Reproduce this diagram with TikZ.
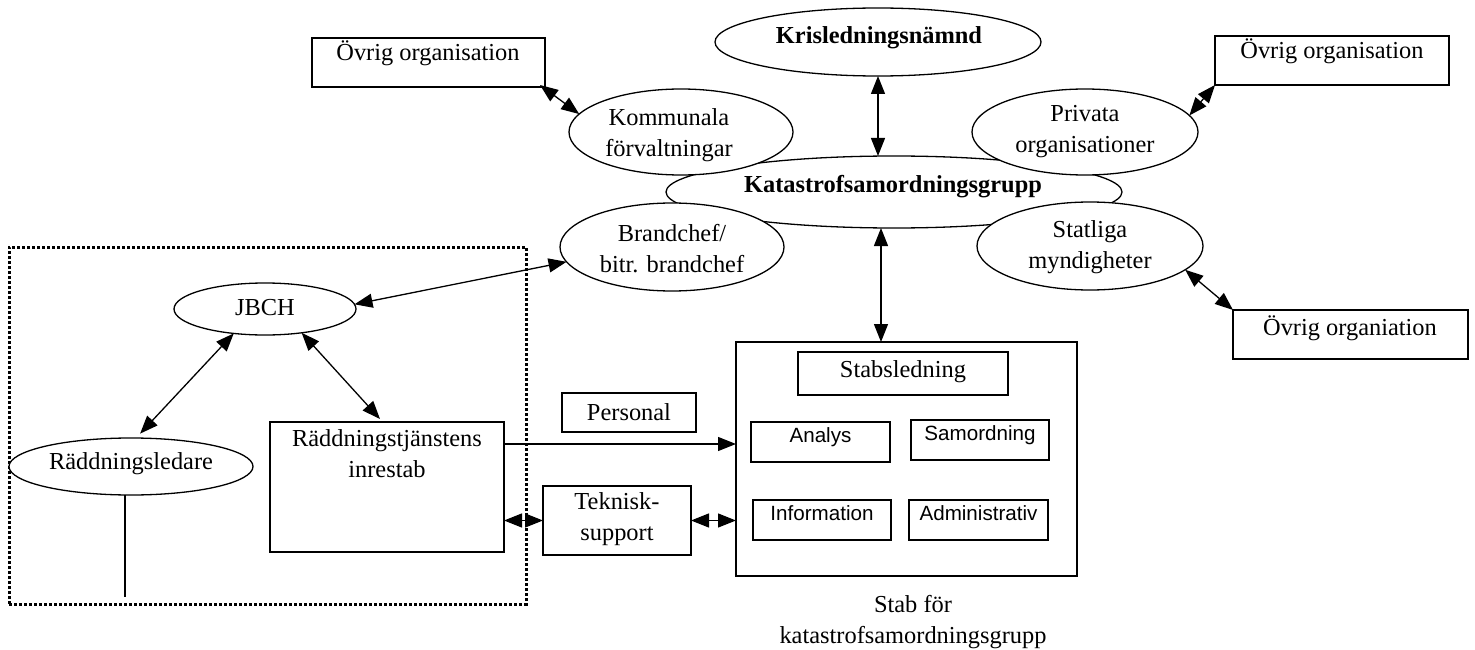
\documentclass[tikz,border=0pt]{standalone}
\usepackage{fontspec}
\setmainfont{Liberation Serif}
\newfontfamily\arialfont{Liberation Sans}
\usetikzlibrary{shapes.geometric,arrows.meta,calc}

\begin{document}
\begin{tikzpicture}[x=1pt,y=-1pt,
  every node/.style={inner sep=0pt, outer sep=0pt},
  serif/.style={font=\fontsize{24.4pt}{31pt}\selectfont, anchor=base, align=center},
  boldtxt/.style={font=\fontsize{24.4pt}{31pt}\selectfont\bfseries, anchor=base},
  sans/.style={font=\arialfont\fontsize{20.6pt}{24pt}\selectfont, anchor=base},
  oval/.style={ellipse, draw, line width=1.3pt, fill=white},
  box/.style={rectangle, draw, line width=1.6pt, fill=white},
  dotframe/.style={rectangle, draw, line width=3pt, dash pattern=on 3pt off 2pt},
  tip/.tip={Triangle[length=18pt,width=14pt]},
  link/.style={line width=1.3pt, tip-tip},
  oneway/.style={line width=1.3pt, -tip},
]
\useasboundingbox (0,0) rectangle (1475,650);

% dotted frame round the rescue service part
\node[dotframe, minimum width=517pt, minimum height=357pt] (inre) at (267.5,425.5) {};

% ellipses (the central group first, the others overlap it)
\node[oval, minimum width=326pt, minimum height=68pt] (kris) at (878,42) {};
\node[oval, minimum width=456pt, minimum height=72pt] (kat) at (894,192) {};
\node[oval, minimum width=224pt, minimum height=86pt] (komm) at (681,132) {};
\node[oval, minimum width=224pt, minimum height=88pt] (brand) at (672,247) {};
\node[oval, minimum width=226pt, minimum height=86pt] (priv) at (1085,132) {};
\node[oval, minimum width=226pt, minimum height=88pt] (stat) at (1090,246) {};
\node[oval, minimum width=182pt, minimum height=52pt] (jbch) at (265,309) {};
\node[oval, minimum width=244pt, minimum height=57pt] (rl) at (131,466.5) {};

% boxes
\node[box, minimum width=233pt, minimum height=49pt] (ovl) at (428.5,62.5) {};
\node[box, minimum width=234pt, minimum height=49pt] (ovr) at (1332,60.5) {};
\node[box, minimum width=235pt, minimum height=49pt] (ovo) at (1350.5,334.5) {};
\node[box, minimum width=341pt, minimum height=234pt] (stab) at (906.5,459) {};
\node[box, minimum width=210pt, minimum height=43pt] (sled) at (903,373.5) {};
\node[box, minimum width=134pt, minimum height=39pt] (pers) at (629,412.5) {};
\node[box, minimum width=139pt, minimum height=40pt] (ana) at (820.5,442) {};
\node[box, minimum width=138pt, minimum height=40pt] (sam) at (980,440) {};
\node[box, minimum width=138pt, minimum height=40pt] (inf) at (822,520) {};
\node[box, minimum width=139pt, minimum height=40pt] (adm) at (978.5,520) {};
\node[box, minimum width=234pt, minimum height=130pt] (rb) at (387,487) {};
\node[box, minimum width=148pt, minimum height=69pt] (tek) at (617,520.5) {};

% texts (two-line labels are placed by the baseline of their last line)
\node[boldtxt] (kris-t) at (879,44) {Krisledningsnämnd};
\node[boldtxt] (kat-t) at (893,193) {Katastrofsamordningsgrupp};
\node[serif] (komm-t) at (669,157) {Kommunala\\förvaltningar};
\node[serif] (brand-t) at (672,272) {Brandchef/\\bitr. brandchef};
\node[serif] (priv-t) at (1085,153) {Privata\\organisationer};
\node[serif] (stat-t) at (1090,268) {Statliga\\myndigheter};
\node[serif] (jbch-t) at (265,315) {JBCH};
\node[serif] (rl-t) at (131,469) {Räddningsledare};
\node[serif] (ovl-t) at (428,61) {Övrig organisation};
\node[serif] (ovr-t) at (1332,59) {Övrig organisation};
\node[serif] (ovo-t) at (1350,335) {Övrig organiation};
\node[serif] (sled-t) at (903,377) {Stabsledning};
\node[serif] (pers-t) at (629,420) {Personal};
\node[sans] (ana-t) at (820.5,442) {Analys};
\node[sans] (sam-t) at (980,440) {Samordning};
\node[sans] (inf-t) at (822,520) {Information};
\node[sans] (adm-t) at (978.5,520) {Administrativ};
\node[serif] (rb-t) at (387,477) {Räddningstjänstens\\inrestab};
\node[serif] (tek-t) at (617,540) {Teknisk-\\support};
\node[serif] (stab-t) at (913,643) {Stab för\\katastrofsamordningsgrupp};

% connectors
\draw[link] ([xshift=-5pt,yshift=2pt]ovl.south east) -- (komm.170);
\draw[link] (ovr.south west) -- (priv.9);
\draw[link] (stat.-14) -- (ovo.north west);
\draw[link] (kris.south) -- (kris.south |- kat.north);
\draw[link] ([xshift=-13pt]kat.south) -- ([xshift=-25.5pt]stab.north);
\draw[link] (brand.188) -- (jbch.3);
\draw[link, shorten >=6pt] (jbch.218) -- (rl.80);
\draw[link] (jbch.-33) -- ([xshift=-7pt,yshift=3pt]rb.north);
\draw[oneway] ([yshift=-22pt]rb.north east) -- ([yshift=-22pt]rb.north east -| stab.west);
\draw[link] (rb.east |- tek.west) -- (tek.west);
\draw[link] (tek.east) -- (tek.east -| stab.west);
\coordinate (rlfoot) at (125,597);
\draw[line width=1.3pt] ([xshift=-6pt]rl.south) -- (rlfoot);
\end{tikzpicture}
\end{document}
